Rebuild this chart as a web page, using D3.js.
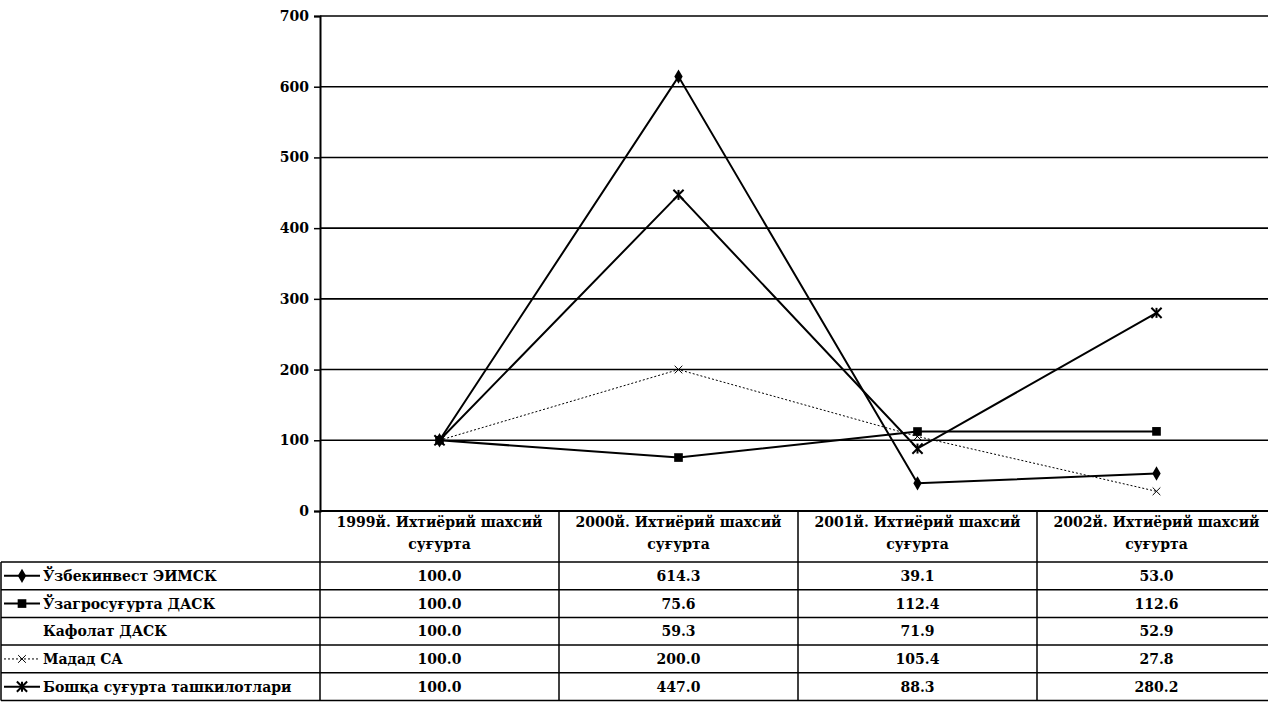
<!DOCTYPE html>
<html>
<head>
<meta charset="utf-8">
<style>
body { margin: 0; background: #fff; }
svg text { font-family: "DejaVu Serif", serif; font-weight: bold; font-size: 14px; fill: #000; }
</style>
</head>
<body>
<svg id="chart" width="1268" height="705"></svg>
<script src="https://d3js.org/d3.v7.min.js"></script>
<script>
// categories (two text lines each)
var categories = ["1999й.", "2000й.", "2001й.", "2002й."];
var catLine1 = ["1999й. Ихтиёрий шахсий", "2000й. Ихтиёрий шахсий", "2001й. Ихтиёрий шахсий", "2002й. Ихтиёрий шахсий"];
var catLine2 = ["суғурта", "суғурта", "суғурта", "суғурта"];

var seriesNames = ["Ўзбекинвест ЭИМСК", "Ўзагросуғурта ДАСК", "Кафолат ДАСК", "Мадад СА", "Бошқа суғурта ташкилотлари"];
var uzbekinvest = [100.0, 614.3, 39.1, 53.0];
var uzagro = [100.0, 75.6, 112.4, 112.6];
var kafolat = [100.0, 59.3, 71.9, 52.9];
var madad = [100.0, 200.0, 105.4, 27.8];
var boshqa = [100.0, 447.0, 88.3, 280.2];
var yTicks = [0, 100, 200, 300, 400, 500, 600, 700];

var seriesValues = [uzbekinvest, uzagro, kafolat, madad, boshqa];
var markers = ["diamond", "square", "none", "cross", "star"];

var svg = d3.select("#chart");

var x = d3.scaleBand().domain(categories).range([320, 1276]).padding(0);
var y = d3.scaleLinear().domain([0, 700]).range([511, 16]);

// grid lines
svg.append("g").selectAll("line").data(yTicks).enter().append("line")
	.attr("x1", 320).attr("x2", 1268)
	.attr("y1", function(d){ return y(d); }).attr("y2", function(d){ return y(d); })
	.attr("stroke", "#000").attr("stroke-width", 1.6);

// y axis
var yAxis = svg.append("g").attr("transform", "translate(320,0)")
	.call(d3.axisLeft(y).tickValues(yTicks).tickSize(6).tickPadding(5).tickFormat(d3.format("d")));
yAxis.select(".domain").attr("stroke-width", 2);
yAxis.selectAll(".tick line").attr("stroke-width", 1.5);
yAxis.selectAll("text").attr("font-family", null).attr("font-size", null);

// lines
var line = d3.line()
	.x(function(d, i){ return x(categories[i]) + x.bandwidth() / 2; })
	.y(function(d){ return y(d); });

function drawMarker(g, type, cx, cy) {
	if (type == "diamond") {
		g.append("path").attr("d", d3.symbol().type(d3.symbolDiamond).size(60)())
			.attr("transform", "translate(" + cx + "," + cy + ")").attr("fill", "#000");
	} else if (type == "square") {
		g.append("path").attr("d", d3.symbol().type(d3.symbolSquare).size(75)())
			.attr("transform", "translate(" + cx + "," + cy + ")").attr("fill", "#000");
	} else if (type == "cross") {
		g.append("path").attr("d", d3.symbol().type(d3.symbolTimes).size(40)())
			.attr("transform", "translate(" + cx + "," + cy + ")").attr("fill", "none")
			.attr("stroke", "#000").attr("stroke-width", 1);
	} else if (type == "star") {
		g.append("path").attr("d", d3.symbol().type(d3.symbolTimes).size(70)())
			.attr("transform", "translate(" + cx + "," + cy + ")").attr("fill", "none")
			.attr("stroke", "#000").attr("stroke-width", 2);
		g.append("line").attr("x1", cx).attr("x2", cx).attr("y1", cy - 5).attr("y2", cy + 5)
			.attr("stroke", "#000").attr("stroke-width", 2);
	}
}

seriesValues.forEach(function(vals, si){
	if (markers[si] == "none") return; // Кафолат ДАСК has no line in the chart
	var g = svg.append("g");
	g.append("path").datum(vals).attr("d", line).attr("fill", "none")
		.attr("stroke", "#000")
		.attr("stroke-width", markers[si] == "cross" ? 1 : 2)
		.attr("stroke-dasharray", markers[si] == "cross" ? "2,2" : null);
	vals.forEach(function(v, i){
		drawMarker(g, markers[si], x(categories[i]) + x.bandwidth() / 2, y(v));
	});
});

// data table
var headTop = 511, headBottom = 562, rowH = 27.7;
var table = svg.append("g");
var tableBottom = headBottom + rowH * seriesNames.length;

table.append("line").attr("x1", 320).attr("x2", 1268).attr("y1", headTop).attr("y2", headTop)
	.attr("stroke", "#000").attr("stroke-width", 2);
d3.range(seriesNames.length + 1).forEach(function(r){
	var yy = headBottom + r * rowH;
	table.append("line").attr("x1", 1).attr("x2", 1268).attr("y1", yy).attr("y2", yy)
		.attr("stroke", "#000").attr("stroke-width", 1.5);
});
categories.forEach(function(c){
	table.append("line").attr("x1", x(c)).attr("x2", x(c)).attr("y1", headTop).attr("y2", tableBottom)
		.attr("stroke", "#000").attr("stroke-width", 1.5);
});
table.append("line").attr("x1", 1).attr("x2", 1).attr("y1", headBottom).attr("y2", tableBottom)
	.attr("stroke", "#000").attr("stroke-width", 1.5);

// header text
categories.forEach(function(c, i){
	var cx = x(c) + x.bandwidth() / 2;
	table.append("text").attr("x", cx).attr("y", headTop + 16).attr("text-anchor", "middle").text(catLine1[i]);
	table.append("text").attr("x", cx).attr("y", headTop + 38).attr("text-anchor", "middle").text(catLine2[i]);
});

// rows
seriesNames.forEach(function(name, si){
	var ty = headBottom + si * rowH;
	var cy = ty + rowH / 2;
	var lg = table.append("g");
	if (markers[si] != "none") {
		lg.append("line").attr("x1", 4).attr("x2", 40).attr("y1", cy).attr("y2", cy)
			.attr("stroke", "#000")
			.attr("stroke-width", markers[si] == "cross" ? 1 : 2)
			.attr("stroke-dasharray", markers[si] == "cross" ? "2,2" : null);
		drawMarker(lg, markers[si], 22, cy);
	}
	lg.append("text").attr("x", 43).attr("y", cy + 5).text(name);
	seriesValues[si].forEach(function(v, i){
		table.append("text").attr("x", x(categories[i]) + x.bandwidth() / 2).attr("y", cy + 5)
			.attr("text-anchor", "middle").text(d3.format(".1f")(v));
	});
});
</script>
</body>
</html>
